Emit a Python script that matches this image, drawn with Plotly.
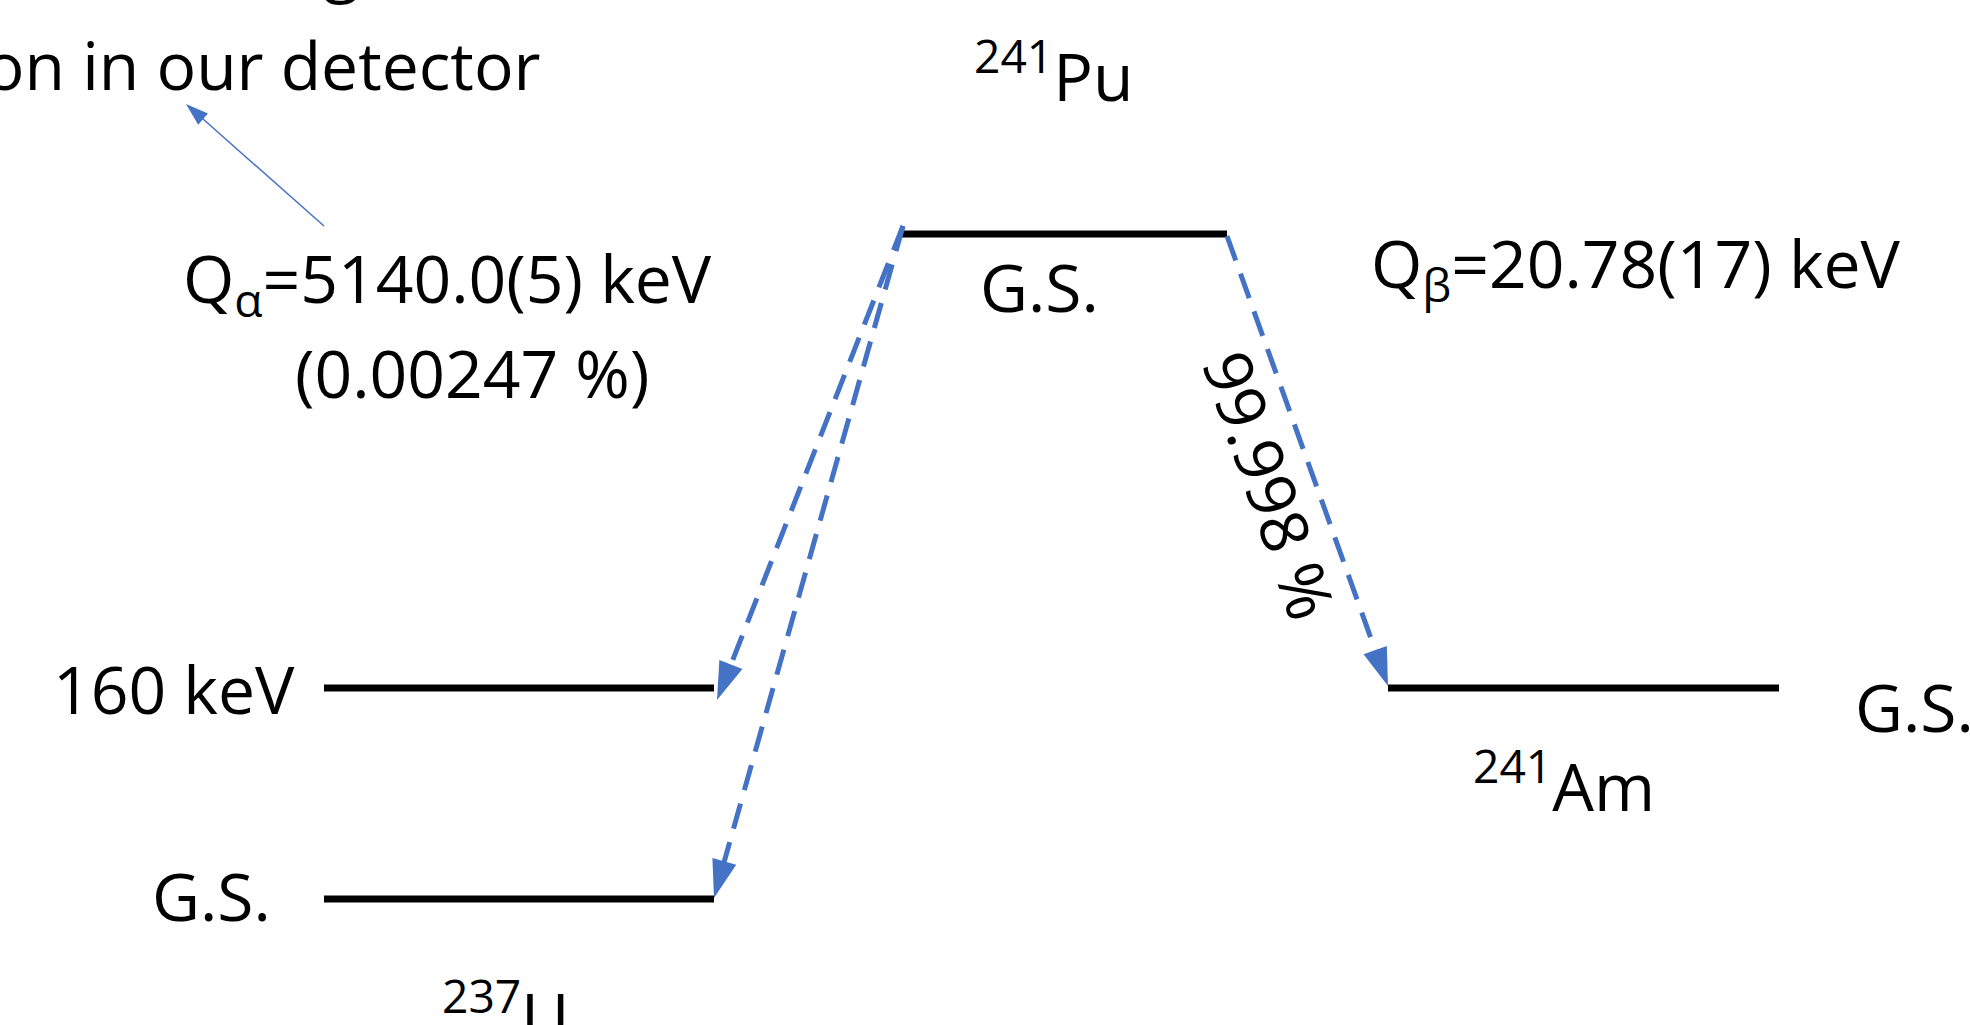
import plotly.graph_objects as go

# ---------------- data (canvas pixel space: x right, y down) ----------------
level_names = ["241Pu G.S.", "237U 160 keV", "237U G.S.", "241Am G.S."]
level_x0 = [901, 324, 324, 1388]
level_x1 = [1227, 714, 714, 1779]
level_y = [234, 688, 899, 688]

decay_names = ["alpha to 160 keV", "alpha to G.S.", "beta to G.S."]
decay_x0 = [903, 903, 1227]
decay_y0 = [226, 226, 236]
decay_x1 = [717, 714, 1388]
decay_y1 = [700, 898, 686]

pointer_x = [324, 186]
pointer_y = [226, 104]

label_text = [
    "<sup>241</sup>Pu", "G.S.", "Q<sub>α</sub>=5140.0(5) keV", "(0.00247 %)",
    "Q<sub>β</sub>=20.78(17) keV", "160 keV", "G.S.", "<sup>237</sup>U",
    "<sup>241</sup>Am", "G.S.", "deposition in our detector", "Leads to huge",
    "99.998 %",
]
label_x = [1053, 1039, 447, 472, 1636, 297, 273, 505, 1564, 1853, 543, 398, 1271]
label_y = [72, 286, 281, 372, 266, 688, 895, 1012, 782, 706, 64, -37, 485]
label_xanchor = ["center", "center", "center", "center", "center", "right", "right",
                 "center", "center", "left", "right", "right", "center"]
label_angle = [0, 0, 0, 0, 0, 0, 0, 0, 0, 0, 0, 0, 71]

W, H = 1970, 1025
BLUE = "#4472C4"
FONT = "Open Sans"
FS = 66

fig = go.Figure()

# energy levels
for name, x0, x1, y in zip(level_names, level_x0, level_x1, level_y):
    fig.add_trace(go.Scatter(
        x=[x0, x1], y=[y, y], mode="lines", name=name,
        line=dict(color="black", width=7), hoverinfo="skip", showlegend=False,
    ))

# decay arrows (dashed, arrowhead at end)
for name, x0, y0, x1, y1 in zip(decay_names, decay_x0, decay_y0, decay_x1, decay_y1):
    fig.add_trace(go.Scatter(
        x=[x0, x1], y=[y0, y1], mode="lines+markers", name=name,
        line=dict(color=BLUE, width=5, dash="26px,14px"),
        marker=dict(symbol=["circle", "arrow"], size=[0, 40], color=BLUE,
                    angleref="previous", line=dict(width=0), opacity=1),
        hoverinfo="skip", showlegend=False,
    ))

# thin pointer arrow
fig.add_trace(go.Scatter(
    x=pointer_x, y=pointer_y, mode="lines+markers", name="pointer",
    line=dict(color=BLUE, width=1.5),
    marker=dict(symbol=["circle", "arrow"], size=[0, 24], color=BLUE,
                angleref="previous", line=dict(width=0), opacity=1),
    hoverinfo="skip", showlegend=False,
))

# labels: placed in paper space (same pixel frame) so partly clipped ones still draw
for t, x, y, xa, ang in zip(label_text, label_x, label_y, label_xanchor, label_angle):
    fig.add_annotation(
        x=x / W, y=1 - y / H, xref="paper", yref="paper", text=t, showarrow=False,
        xanchor=xa, yanchor="middle", textangle=ang,
        font=dict(family=FONT, size=FS, color="black"),
    )

fig.update_xaxes(range=[0, W], visible=False, fixedrange=True)
fig.update_yaxes(range=[H, 0], visible=False, fixedrange=True)
fig.update_layout(
    width=W, height=H, margin=dict(l=0, r=0, t=0, b=0),
    paper_bgcolor="white", plot_bgcolor="white", showlegend=False,
)

fig.write_html("out.html", config={"displayModeBar": False},
               post_script="document.body.style.margin='0';document.body.style.overflow='hidden';")
